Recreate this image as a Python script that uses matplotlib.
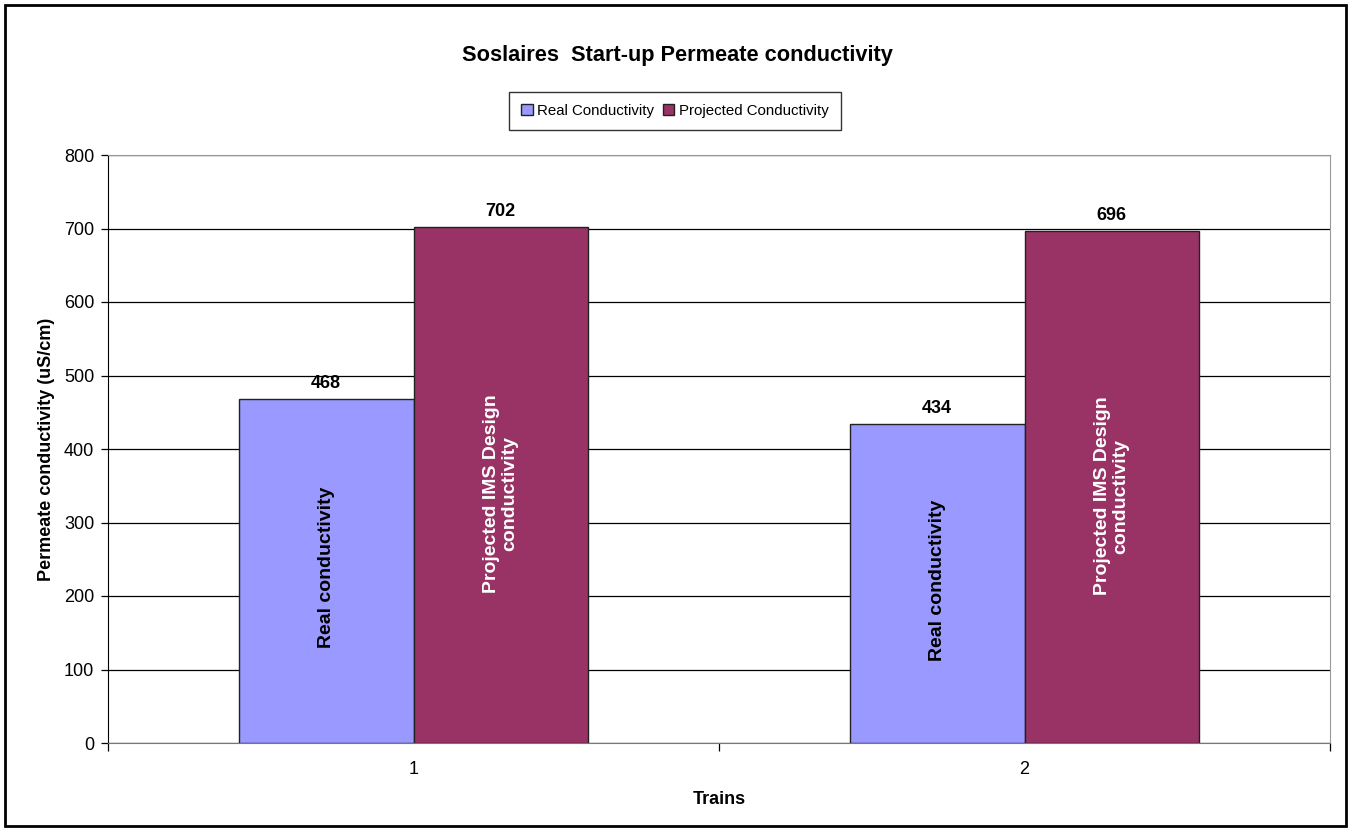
import numpy as np
import matplotlib.pyplot as plt
from matplotlib.patches import Rectangle

plt.rcParams['font.family'] = ['Liberation Sans', 'DejaVu Sans']

## data
trains = ["1", "2"]
real_cond = [468, 434]
projected_cond = [702, 696]
series_names = ["Real Conductivity", "Projected Conductivity"]
bar_texts = ["Real conductivity", "Projected IMS Design\nconductivity"]

c_real = "#9999ff"
c_proj = "#993366"

fig = plt.figure(figsize=(13.51, 8.31), dpi=100)
W, H = 1351, 831
ax = fig.add_axes([108 / W, 1 - 743 / H, (1330 - 108) / W, (743 - 155) / H])

x = np.arange(1, len(trains) + 1)
bw = 1 / 3.5
b1 = ax.bar(x - bw / 2, real_cond, bw, color=c_real, edgecolor="#222222", linewidth=1.0, zorder=3)
b2 = ax.bar(x + bw / 2, projected_cond, bw, color=c_proj, edgecolor="#222222", linewidth=1.0, zorder=3)

## value labels above bars
for bars in (b1, b2):
    for r in bars:
        ax.text(r.get_x() + r.get_width() / 2, r.get_height() + 10, f"{r.get_height():.0f}",
                ha="center", va="bottom", fontsize=13, fontweight="bold", zorder=4)

## rotated labels inside bars
for i in range(len(trains)):
    ax.text(x[i] - bw / 2, real_cond[i] / 2 + 5, bar_texts[0], rotation=90, ha="center", va="center",
            fontsize=14, fontweight="bold", color="black", zorder=4)
    ax.text(x[i] + bw / 2, projected_cond[i] / 2 - 12, bar_texts[1], rotation=90, ha="center",
            va="center", fontsize=14, fontweight="bold", color="white", zorder=4, linespacing=1.1)

ax.set_xlim(0.5, len(trains) + 0.5)
ax.set_ylim(0, 800)
ax.set_yticks(range(0, 801, 100))
ax.yaxis.grid(True, color="black", linewidth=0.9, zorder=0)
ax.set_axisbelow(True)

## category ticks at boundaries, labels at centres
ax.set_xticks(np.arange(0.5, len(trains) + 1, 1))
ax.set_xticklabels([])
ax.set_xticks(x, minor=True)
ax.set_xticklabels(trains, minor=True)
ax.tick_params(axis="x", which="minor", length=0, pad=13, labelsize=13)
ax.tick_params(axis="x", which="major", length=6, width=0.9, direction="out")
ax.tick_params(axis="y", length=5, width=0.9, direction="out", labelsize=13, pad=5)

for s in ("top", "right"):
    ax.spines[s].set_color("#999999")
ax.spines["left"].set_color("black")
ax.spines["bottom"].set_color("#777777")

ax.set_xlabel("Trains", fontsize=13, fontweight="bold", labelpad=9)
ax.set_ylabel("Permeate conductivity (uS/cm)", fontsize=13, fontweight="bold", labelpad=6)

fig.text(677 / W, 1 - 56 / H, "Soslaires  Start-up Permeate conductivity", ha="center", va="center",
         fontsize=15.7, fontweight="bold")

leg = fig.legend([b1, b2], series_names, loc="center", bbox_to_anchor=(675 / W, 1 - 111 / H),
                 ncol=2, frameon=True, fancybox=False, fontsize=10.8, handlelength=0.75,
                 handleheight=0.75, handletextpad=0.3, columnspacing=0.6, borderpad=0.8)
leg.get_frame().set_edgecolor("black")
leg.get_frame().set_linewidth(1.0)

## outer chart border
fig.patches.append(Rectangle((5 / W, 5 / H), 1 - 10 / W, 1 - 10 / H, transform=fig.transFigure,
                             fill=False, edgecolor="black", linewidth=2))

fig.savefig("out.png", dpi=100)
